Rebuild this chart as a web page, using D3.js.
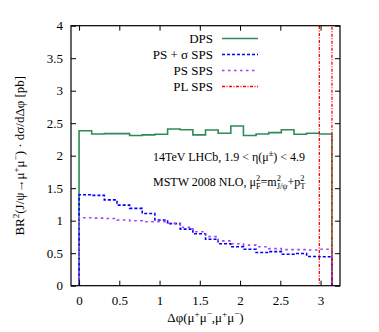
<!doctype html>
<html lang="en">
<head>
<meta charset="utf-8">
<title>DPS J/psi pair dphi</title>
<script src="https://cdn.jsdelivr.net/npm/d3@7"></script>
<style>
  body { margin: 0; background: #fff; }
  svg text { font-family: "Liberation Serif", "Times New Roman", serif; fill: #000; }
</style>
</head>
<body>
<script>
// bin edges in delta phi (20 bins from 0 to pi)
var binEdges = [0, 0.157, 0.314, 0.471, 0.628, 0.785, 0.942, 1.100, 1.257, 1.414, 1.571,
                1.728, 1.885, 2.042, 2.199, 2.356, 2.513, 2.670, 2.827, 2.985, 3.1416];

var dps = [2.385, 2.335, 2.34, 2.34, 2.31, 2.32, 2.33, 2.41, 2.40, 2.32,
           2.395, 2.345, 2.457, 2.31, 2.335, 2.355, 2.40, 2.33, 2.345, 2.335];
var psSigmaSps = [1.40, 1.39, 1.32, 1.24, 1.19, 1.11, 1.01, 0.955, 0.87, 0.80,
                  0.715, 0.645, 0.60, 0.56, 0.51, 0.525, 0.485, 0.495, 0.45, 0.445];
var psSps = [1.045, 1.04, 1.035, 1.01, 1.0, 0.985, 0.985, 0.96, 0.90, 0.83,
             0.755, 0.69, 0.645, 0.625, 0.60, 0.57, 0.555, 0.555, 0.55, 0.56];
var plSps = [0, 0, 0, 0, 0, 0, 0, 0, 0, 0,
             0, 0, 0, 0, 0, 0, 0, 0, 0, 40];

var xTicks = [0, 0.5, 1, 1.5, 2, 2.5, 3];
var yTicks = [0, 0.5, 1, 1.5, 2, 2.5, 3, 3.5, 4];

var series = [
    {name: "DPS", values: dps, color: "#2e8b57", dash: null, width: 1.6},
    {name: "PS + \u03c3 SPS", values: psSigmaSps, color: "#0000ff", dash: "3,2", width: 1.6},
    {name: "PS SPS", values: psSps, color: "#a040f0", dash: "2.5,3.5", width: 1.6},
    {name: "PL SPS", values: plSps, color: "#ff0000", dash: "3,1.5,1,1.5", width: 1.3}
];

var W = 379, H = 332;
var margin = {top: 25.7, right: 39, bottom: 46.3, left: 71};
var serif = "'Liberation Serif', 'Times New Roman', serif";

var svg = d3.select("body").append("svg")
            .attr("width", W)
            .attr("height", H);

var xScale = d3.scaleLinear()
               .domain([-0.1, Math.PI + 0.1])
               .range([margin.left, W - margin.right]);
var yScale = d3.scaleLinear()
               .domain([0, 4])
               .range([H - margin.bottom, margin.top]);

svg.append("clipPath").attr("id", "plotclip")
   .append("rect")
   .attr("x", margin.left).attr("y", margin.top)
   .attr("width", W - margin.left - margin.right)
   .attr("height", H - margin.top - margin.bottom);

// histogram step path: up from zero at first edge, across bins, down to zero at last edge
function stepPoints(vals) {
    var pts = [[binEdges[0], 0]];
    vals.forEach(function(v, i) {
        pts.push([binEdges[i], v]);
        pts.push([binEdges[i + 1], v]);
    });
    pts.push([binEdges[binEdges.length - 1], 0]);
    return pts;
}

var line = d3.line()
             .x(d => xScale(d[0]))
             .y(d => yScale(d[1]));

var plot = svg.append("g").attr("clip-path", "url(#plotclip)");

series.forEach(function(s) {
    plot.append("path")
        .attr("d", line(stepPoints(s.values)))
        .attr("fill", "none")
        .attr("stroke", s.color)
        .attr("stroke-width", s.width)
        .attr("stroke-dasharray", s.dash);
});

// axes, ticks inward on all four sides
var tickFmt = d3.format("");
var xAxisB = d3.axisBottom(xScale).tickValues(xTicks).tickFormat(tickFmt).tickSizeInner(-5).tickSizeOuter(0).tickPadding(10);
var xAxisT = d3.axisTop(xScale).tickValues(xTicks).tickFormat("").tickSizeInner(-5).tickSizeOuter(0);
var yAxisL = d3.axisLeft(yScale).tickValues(yTicks).tickFormat(tickFmt).tickSizeInner(-5).tickSizeOuter(0).tickPadding(8);
var yAxisR = d3.axisRight(yScale).tickValues(yTicks).tickFormat("").tickSizeInner(-5).tickSizeOuter(0);

function styleAxis(g) {
    g.attr("font-family", serif).attr("font-size", 13);
    g.select(".domain").remove();
    g.selectAll(".tick line").attr("stroke", "#000").attr("stroke-width", 1);
    g.selectAll(".tick text").attr("fill", "#000");
}

svg.append("g").attr("transform", "translate(0," + (H - margin.bottom) + ")").call(xAxisB).call(styleAxis);
svg.append("g").attr("transform", "translate(0," + margin.top + ")").call(xAxisT).call(styleAxis);
svg.append("g").attr("transform", "translate(" + margin.left + ",0)").call(yAxisL).call(styleAxis);
svg.append("g").attr("transform", "translate(" + (W - margin.right) + ",0)").call(yAxisR).call(styleAxis);

svg.append("rect")
   .attr("x", margin.left).attr("y", margin.top)
   .attr("width", W - margin.left - margin.right)
   .attr("height", H - margin.top - margin.bottom)
   .attr("fill", "none")
   .attr("stroke", "#000")
   .attr("stroke-width", 1.2);

// legend
var legX = 213, legY0 = 38.5, legDy = 16;
series.forEach(function(s, i) {
    var y = legY0 + i * legDy;
    svg.append("text")
       .attr("x", legX).attr("y", y + 4.5)
       .attr("text-anchor", "end")
       .style("font-size", "13px")
       .text(s.name);
    svg.append("line")
       .attr("x1", 222).attr("x2", 258)
       .attr("y1", y).attr("y2", y)
       .attr("stroke", s.color)
       .attr("stroke-width", s.width)
       .attr("stroke-dasharray", s.dash);
});

// rich text helper: parts are [text, kind] with kind "n", "sup", "sub", or "stack" (sup over sub)
function richText(t, parts, size) {
    var shift = 0;
    var small = size * 0.7;
    parts.forEach(function(p) {
        var kind = p[1];
        if (kind === "stack") {
            var up = -size * 0.42, down = size * 0.25;
            var a = t.append("tspan").attr("dy", up - shift).style("font-size", small + "px").text(p[0]);
            var len = a.node().getComputedTextLength();
            t.append("tspan").attr("dx", -len).attr("dy", down - up).style("font-size", small + "px").text(p[2]);
            shift = down;
            return;
        }
        var target = kind === "sup" ? -size * 0.42 : (kind === "sub" ? size * 0.25 : 0);
        t.append("tspan")
         .attr("dy", target - shift)
         .style("font-size", (kind === "n" ? size : small) + "px")
         .text(p[0]);
        shift = target;
    });
}

var t1 = svg.append("text").attr("x", 153).attr("y", 161).style("font-size", "12px");
richText(t1, [["14TeV LHCb, 1.9 < \u03b7(\u03bc", "n"], ["\u00b1", "sup"], [") < 4.9", "n"]], 12);

var t2 = svg.append("text").attr("x", 153).attr("y", 186).style("font-size", "12px");
richText(t2, [["MSTW 2008 NLO, \u03bc", "n"], ["2", "stack", "F"], ["=m", "n"], ["2", "stack", "J/\u03c8"],
              ["+p", "n"], ["2", "stack", "T"]], 12);

// axis titles
var xl = svg.append("text")
            .attr("x", (margin.left + W - margin.right) / 2)
            .attr("y", 322)
            .attr("text-anchor", "middle")
            .style("font-size", "13px");
richText(xl, [["\u0394\u03c6(\u03bc", "n"], ["+", "sup"], ["\u03bc", "n"], ["\u2212", "sup"], [",\u03bc", "n"],
              ["+", "sup"], ["\u03bc", "n"], ["\u2212", "sup"], [")", "n"]], 13);

var yl = svg.append("text")
            .attr("transform", "translate(24," + ((margin.top + H - margin.bottom) / 2) + ") rotate(-90)")
            .attr("text-anchor", "middle")
            .style("font-size", "13px");
richText(yl, [["BR", "n"], ["2", "sup"], ["(J/\u03c8\u2192\u03bc", "n"], ["+", "sup"], ["\u03bc", "n"], ["\u2212", "sup"],
              [") \u00b7 d\u03c3/d\u0394\u03c6 [pb]", "n"]], 13);
</script>
</body>
</html>
